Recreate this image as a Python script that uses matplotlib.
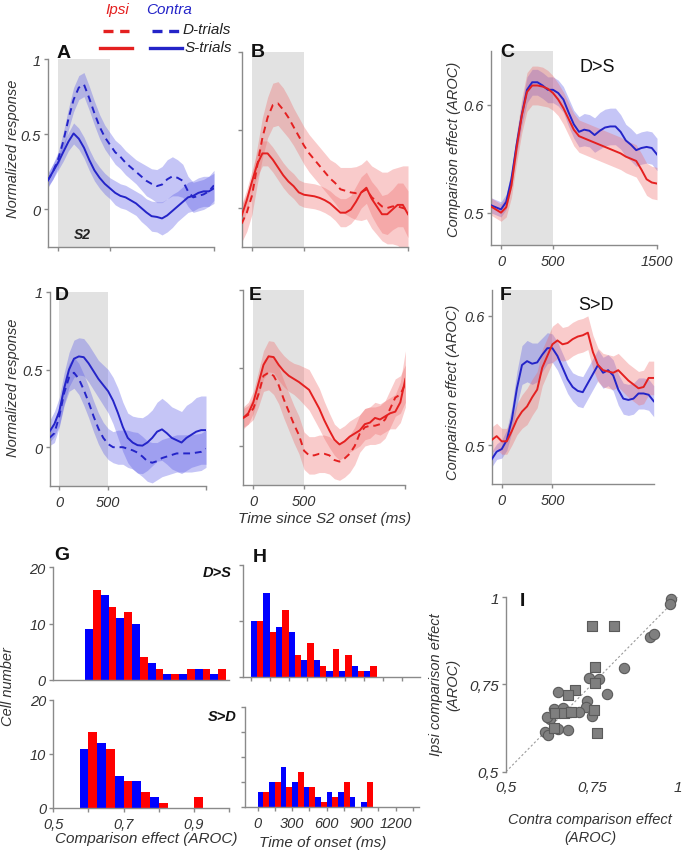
import numpy as np
import matplotlib
matplotlib.use('Agg')
import matplotlib.pyplot as plt

W, H = 691, 853
plt.rcParams['font.family'] = ['Liberation Sans', 'DejaVu Sans']
plt.rcParams['font.style'] = 'italic'

# ---------------- data ----------------
t_ms = np.arange(-100, 1501, 50)

# Panel A (contra)
a_d_mean = [0.19, 0.25, 0.33, 0.45, 0.60, 0.73, 0.81, 0.83, 0.74, 0.64, 0.55, 0.48, 0.43, 0.38, 0.35, 0.31, 0.28,
            0.25, 0.22, 0.19, 0.17, 0.155, 0.165, 0.20, 0.22, 0.21, 0.19, 0.12, 0.08, 0.09, 0.10, 0.12, 0.16]
a_d_sem = [0.04, 0.05, 0.05, 0.06, 0.07, 0.08, 0.08, 0.08, 0.08, 0.08, 0.08, 0.08, 0.08, 0.08, 0.08, 0.08, 0.08,
           0.08, 0.09, 0.10, 0.10, 0.11, 0.12, 0.13, 0.13, 0.12, 0.11, 0.10, 0.10, 0.10, 0.10, 0.10, 0.10]
a_s_mean = [0.19, 0.25, 0.31, 0.38, 0.45, 0.505, 0.47, 0.41, 0.33, 0.26, 0.21, 0.17, 0.14, 0.11, 0.09, 0.08, 0.06,
            0.04, 0.01, -0.02, -0.045, -0.05, -0.06, -0.04, -0.01, 0.02, 0.05, 0.08, 0.09, 0.11, 0.12, 0.12, 0.14]
a_s_sem = [0.05, 0.05, 0.05, 0.06, 0.06, 0.07, 0.07, 0.07, 0.07, 0.07, 0.07, 0.07, 0.07, 0.08, 0.08, 0.08, 0.08,
           0.08, 0.09, 0.09, 0.10, 0.10, 0.11, 0.11, 0.11, 0.10, 0.10, 0.10, 0.10, 0.10, 0.10, 0.10, 0.10]

# Panel B (ipsi)
b_d_mean = [-0.10, -0.03, 0.08, 0.27, 0.45, 0.58, 0.66, 0.67, 0.63, 0.58, 0.52, 0.46, 0.40, 0.35, 0.31, 0.27, 0.23,
            0.19, 0.16, 0.12, 0.11, 0.10, 0.095, 0.10, 0.12, 0.07, 0.04, 0.01, 0.0, 0.01, 0.01, 0.0, -0.01]
b_d_sem = [0.12, 0.12, 0.12, 0.12, 0.13, 0.13, 0.14, 0.14, 0.14, 0.13, 0.12, 0.12, 0.12, 0.12, 0.12, 0.12, 0.12,
           0.12, 0.13, 0.14, 0.15, 0.16, 0.17, 0.18, 0.19, 0.20, 0.21, 0.22, 0.23, 0.24, 0.25, 0.27, 0.28]
b_s_mean = [-0.05, 0.05, 0.17, 0.28, 0.35, 0.35, 0.31, 0.26, 0.21, 0.17, 0.14, 0.10, 0.085, 0.08, 0.075, 0.065, 0.05,
            0.03, 0.0, -0.03, -0.03, -0.01, 0.04, 0.10, 0.13, 0.06, 0.01, -0.04, -0.04, -0.01, 0.02, 0.02, -0.04]
b_s_sem = [0.07, 0.07, 0.07, 0.08, 0.08, 0.08, 0.08, 0.08, 0.08, 0.08, 0.08, 0.08, 0.08, 0.08, 0.08, 0.08, 0.08,
           0.08, 0.08, 0.09, 0.09, 0.09, 0.10, 0.10, 0.10, 0.11, 0.12, 0.12, 0.13, 0.13, 0.14, 0.14, 0.15]

# Panel C (D>S AROC)
c_contra_mean = [0.507, 0.505, 0.503, 0.51, 0.531, 0.563, 0.591, 0.614, 0.621, 0.621, 0.618, 0.614, 0.614, 0.611,
                 0.605, 0.593, 0.582, 0.575, 0.577, 0.576, 0.572, 0.576, 0.579, 0.58, 0.58, 0.575, 0.567, 0.563,
                 0.558, 0.56, 0.561, 0.56, 0.554]
c_contra_sem = [0.007, 0.007, 0.007, 0.007, 0.008, 0.009, 0.010, 0.012, 0.012, 0.012, 0.012, 0.012, 0.012, 0.012,
                0.012, 0.013, 0.013, 0.014, 0.015, 0.015, 0.016, 0.017, 0.017, 0.017, 0.017, 0.016, 0.015, 0.015,
                0.015, 0.015, 0.015, 0.015, 0.015]
c_ipsi_mean = [0.506, 0.503, 0.5, 0.505, 0.525, 0.56, 0.59, 0.612, 0.618, 0.618, 0.617, 0.615, 0.611, 0.605, 0.597,
               0.587, 0.577, 0.571, 0.569, 0.567, 0.565, 0.563, 0.561, 0.559, 0.557, 0.555, 0.552, 0.55, 0.548, 0.54,
               0.531, 0.528, 0.527]
c_ipsi_sem = [0.008, 0.008, 0.008, 0.009, 0.011, 0.014, 0.016, 0.018, 0.018, 0.018, 0.018, 0.017, 0.016, 0.015,
              0.015, 0.015, 0.015, 0.015, 0.015, 0.015, 0.015, 0.015, 0.015, 0.015, 0.015, 0.015, 0.015, 0.015,
              0.015, 0.015, 0.015, 0.015, 0.015]

# Panel D (contra)
d_s_mean = [0.10, 0.15, 0.23, 0.38, 0.50, 0.57, 0.585, 0.58, 0.54, 0.49, 0.44, 0.40, 0.36, 0.30, 0.22, 0.13, 0.06,
            0.03, 0.013, 0.01, 0.03, 0.06, 0.10, 0.115, 0.09, 0.06, 0.045, 0.03, 0.06, 0.08, 0.10, 0.11, 0.11]
d_s_sem = [0.07, 0.08, 0.09, 0.10, 0.11, 0.12, 0.12, 0.12, 0.12, 0.12, 0.12, 0.13, 0.14, 0.15, 0.16, 0.16, 0.16,
           0.17, 0.18, 0.18, 0.18, 0.18, 0.19, 0.20, 0.20, 0.20, 0.20, 0.20, 0.21, 0.21, 0.22, 0.22, 0.22]
d_d_mean = [0.06, 0.09, 0.20, 0.35, 0.45, 0.48, 0.44, 0.37, 0.29, 0.20, 0.12, 0.06, 0.02, 0.0, 0.0, 0.0, -0.01,
            -0.02, -0.035, -0.06, -0.09, -0.10, -0.09, -0.07, -0.06, -0.05, -0.04, -0.04, -0.04, -0.04, -0.035,
            -0.03, -0.01]
d_d_sem = [0.05, 0.06, 0.07, 0.08, 0.09, 0.10, 0.10, 0.10, 0.10, 0.10, 0.10, 0.10, 0.10, 0.10, 0.11, 0.11, 0.12,
           0.12, 0.13, 0.13, 0.13, 0.13, 0.12, 0.12, 0.12, 0.12, 0.12, 0.12, 0.12, 0.12, 0.12, 0.12, 0.12]

# Panel E (ipsi)
e_s_mean = [0.18, 0.21, 0.28, 0.40, 0.52, 0.575, 0.57, 0.52, 0.48, 0.45, 0.43, 0.41, 0.385, 0.36, 0.30, 0.24, 0.165,
            0.10, 0.04, 0.01, 0.03, 0.06, 0.08, 0.10, 0.14, 0.15, 0.18, 0.17, 0.19, 0.21, 0.22, 0.28, 0.43]
e_s_sem = [0.07, 0.07, 0.07, 0.08, 0.09, 0.10, 0.10, 0.10, 0.10, 0.10, 0.10, 0.11, 0.12, 0.13, 0.13, 0.13, 0.12,
           0.11, 0.10, 0.10, 0.10, 0.10, 0.10, 0.10, 0.10, 0.10, 0.10, 0.10, 0.10, 0.10, 0.11, 0.13, 0.18]
e_d_mean = [0.18, 0.20, 0.24, 0.33, 0.45, 0.47, 0.45, 0.39, 0.30, 0.22, 0.14, 0.07, -0.03, -0.06, -0.06, -0.05,
            -0.05, -0.06, -0.09, -0.10, -0.08, -0.05, 0.0, 0.08, 0.12, 0.13, 0.13, 0.14, 0.17, 0.24, 0.31, 0.33, 0.40]
e_d_sem = [0.06, 0.06, 0.07, 0.08, 0.10, 0.11, 0.12, 0.12, 0.12, 0.12, 0.12, 0.12, 0.12, 0.12, 0.12, 0.12, 0.12,
           0.12, 0.12, 0.12, 0.12, 0.12, 0.12, 0.12, 0.12, 0.12, 0.12, 0.12, 0.12, 0.12, 0.12, 0.12, 0.12]

# Panel F (S>D AROC)
f_contra_mean = [0.489, 0.495, 0.497, 0.504, 0.52, 0.544, 0.562, 0.565, 0.563, 0.564, 0.57, 0.575, 0.575, 0.569,
                 0.56, 0.551, 0.545, 0.542, 0.541, 0.548, 0.555, 0.562, 0.556, 0.558, 0.554, 0.543, 0.536, 0.535,
                 0.536, 0.54, 0.54, 0.539, 0.534]
f_contra_sem = [0.006, 0.006, 0.007, 0.008, 0.010, 0.013, 0.015, 0.016, 0.016, 0.015, 0.013, 0.012, 0.011, 0.011,
                0.011, 0.011, 0.011, 0.012, 0.012, 0.012, 0.012, 0.012, 0.012, 0.012, 0.012, 0.012, 0.012, 0.012,
                0.012, 0.012, 0.012, 0.012, 0.012]
f_ipsi_mean = [0.504, 0.507, 0.503, 0.503, 0.511, 0.52, 0.526, 0.53, 0.537, 0.543, 0.56, 0.569, 0.578, 0.581,
               0.578, 0.579, 0.582, 0.584, 0.585, 0.587, 0.572, 0.562, 0.558, 0.557, 0.556, 0.558, 0.554, 0.55,
               0.547, 0.544, 0.545, 0.552, 0.552]
f_ipsi_sem = [0.010, 0.010, 0.010, 0.010, 0.011, 0.012, 0.013, 0.014, 0.014, 0.014, 0.014, 0.014, 0.014, 0.014,
              0.013, 0.013, 0.013, 0.013, 0.013, 0.013, 0.013, 0.013, 0.013, 0.013, 0.013, 0.013, 0.013, 0.013,
              0.013, 0.013, 0.013, 0.013, 0.013]

# Panel G histograms (comparison effect AROC)
g_top_bins = [0.575, 0.625, 0.675, 0.725, 0.775, 0.825, 0.875, 0.925, 0.975]
g_top_contra = [9, 15, 11, 10, 3, 1, 1, 2, 1]
g_top_ipsi = [16, 13, 12, 4, 2, 1, 2, 2, 2]
g_bot_bins = [0.575, 0.625, 0.675, 0.725, 0.775, 0.825, 0.875]
g_bot_contra = [11, 12, 6, 5, 2, 0, 0]
g_bot_ipsi = [14, 11, 5, 3, 1, 0, 2]

# Panel H histograms (time of onset, ms)
h_bins = [0, 100, 200, 300, 400, 500, 600, 700, 800, 900]
h_top_contra = [10, 15, 9, 8, 3, 3, 1, 1, 2, 1]
h_top_ipsi = [10, 8, 12, 4, 6, 2, 5, 4, 1, 2]
h_bot_contra = [3, 5, 8, 5, 4, 2, 3, 3, 2, 1]
h_bot_ipsi = [3, 5, 4, 7, 4, 1, 2, 5, 0, 5]

# Panel I scatter
i_circ_contra = [0.981, 0.976, 0.918, 0.929, 0.843, 0.794, 0.742, 0.771, 0.650, 0.736, 0.734, 0.749, 0.712, 0.639,
                 0.666, 0.628, 0.620, 0.613, 0.623, 0.650, 0.681, 0.686]
i_circ_ipsi = [0.993, 0.981, 0.885, 0.895, 0.796, 0.722, 0.768, 0.764, 0.728, 0.701, 0.684, 0.659, 0.670, 0.680,
               0.683, 0.650, 0.656, 0.613, 0.605, 0.622, 0.620, 0.672]
i_sq_contra = [0.751, 0.814, 0.760, 0.760, 0.702, 0.681, 0.642, 0.668, 0.690, 0.756, 0.639, 0.765]
i_sq_ipsi = [0.917, 0.917, 0.801, 0.753, 0.733, 0.720, 0.667, 0.668, 0.672, 0.678, 0.624, 0.611]

# ---------------- styling ----------------
BLUE = '#2424c8'
RED = '#e42020'
BLUE_F = '#5a5ae6'
RED_F = '#f06a6a'
GRAY = '#e2e2e2'
SP = '#8a8a8a'
TXT = '#333333'

fig = plt.figure(figsize=(W / 100, H / 100), dpi=100)


def add_ax(l, t, r, b):
    return fig.add_axes([l / W, 1 - b / H, (r - l) / W, (b - t) / H])


def style(ax, labelsize=10.5):
    for s in ['top', 'right']:
        ax.spines[s].set_visible(False)
    for s in ['left', 'bottom']:
        ax.spines[s].set_color(SP)
        ax.spines[s].set_linewidth(1.0)
    ax.tick_params(colors=SP, labelcolor=TXT, length=3, width=1, labelsize=labelsize)
    ax.tick_params(axis='y', pad=2)
    ax.patch.set_alpha(0)


def trace_panel(rect, ylim, series, yticks, ylabels, xticks, xlabels):
    ax = add_ax(*rect)
    ax.axvspan(0, 500, color=GRAY, lw=0, zorder=0)
    for mean, sem, col, fc, ls in series:
        m = np.array(mean)
        s = np.array(sem)
        ax.fill_between(t_ms, m - s, m + s, color=fc, alpha=0.35, lw=0, zorder=1)
    for mean, sem, col, fc, ls in series:
        if ls == 'dash':
            ax.plot(t_ms, mean, color=col, lw=1.4, ls=(0, (3.5, 2.5)), zorder=3)
        else:
            ax.plot(t_ms, mean, color=col, lw=1.4, zorder=3)
    ax.set_xlim(-100, 1500)
    ax.set_ylim(*ylim)
    ax.set_yticks(yticks)
    ax.set_yticklabels(ylabels)
    ax.set_xticks(xticks)
    ax.set_xticklabels(xlabels)
    style(ax)
    return ax


axA = trace_panel((47.6, 60, 214, 248), (-0.25, 1.0),
                  [(a_d_mean, a_d_sem, BLUE, BLUE_F, 'dash'), (a_s_mean, a_s_sem, BLUE, BLUE_F, 'solid')],
                  [0, 0.5, 1], ['0', '0.5', '1'], [0, 500, 1500], ['', '', ''])
axB = trace_panel((241.6, 53, 408, 248), (-0.25, 1.0),
                  [(b_d_mean, b_d_sem, RED, RED_F, 'dash'), (b_s_mean, b_s_sem, RED, RED_F, 'solid')],
                  [0, 0.5, 1], ['', '', ''], [0, 500, 1500], ['', '', ''])
axC = trace_panel((490.6, 52, 657, 246), (0.47, 0.65),
                  [(c_contra_mean, c_contra_sem, BLUE, BLUE_F, 'solid'), (c_ipsi_mean, c_ipsi_sem, RED, RED_F, 'solid')],
                  [0.5, 0.6], ['0.5', '0.6'], [0, 500, 1500], ['0', '500', '1500'])
axD = trace_panel((49.5, 293, 206, 487), (-0.25, 1.0),
                  [(d_s_mean, d_s_sem, BLUE, BLUE_F, 'solid'), (d_d_mean, d_d_sem, BLUE, BLUE_F, 'dash')],
                  [0, 0.5, 1], ['0', '0.5', '1'], [0, 500, 1500], ['0', '500', ''])
axE = trace_panel((243.2, 291, 405.4, 486), (-0.25, 1.0),
                  [(e_s_mean, e_s_sem, RED, RED_F, 'solid'), (e_d_mean, e_d_sem, RED, RED_F, 'dash')],
                  [0, 0.5, 1], ['', '', ''], [0, 500, 1500], ['0', '500', ''])
axF = trace_panel((491.6, 291, 653.7, 485), (0.47, 0.62),
                  [(f_contra_mean, f_contra_sem, BLUE, BLUE_F, 'solid'), (f_ipsi_mean, f_ipsi_sem, RED, RED_F, 'solid')],
                  [0.5, 0.6], ['0.5', '0.6'], [0, 500], ['0', '500'])

HB = '#0000ff'
HR = '#ff0000'


def hist_panel(rect, xlim, bins, width, contra, ipsi, ylim, yticks, ylabels):
    ax = add_ax(*rect)
    b = np.array(bins, dtype=float)
    ax.bar(b, contra, width=width / 2, align='edge', color=HB, lw=0, zorder=2)
    ax.bar(b + width / 2, ipsi, width=width / 2, align='edge', color=HR, lw=0, zorder=2)
    ax.set_xlim(*xlim)
    ax.set_ylim(*ylim)
    ax.set_yticks(yticks)
    ax.set_yticklabels(ylabels)
    style(ax)
    return ax


axG1 = hist_panel((52.7, 568, 229, 681), (0.472, 1.034), g_top_bins, 0.05, g_top_contra, g_top_ipsi,
                  (0, 20), [0, 10, 20], ['0', '10', '20'])
axG1.set_xticks([])
axG2 = hist_panel((53.3, 701, 229, 809), (0.5, 1.0), g_bot_bins, 0.05, g_bot_contra, g_bot_ipsi,
                  (0, 20), [0, 10, 20], ['0', '10', '20'])
axG2.set_xticks([0.5, 0.7, 0.9])
axG2.set_xticklabels(['0,5', '0,7', '0,9'])
axG2.set_xticks([0.6, 0.8, 1.0], minor=True)
axG2.tick_params(which='minor', colors=SP, length=3, width=1)

axH1 = hist_panel((243.5, 566, 420, 678), (-57, 1343), h_bins, 100, h_top_contra, h_top_ipsi,
                  (0, 20), [0, 10, 20], ['', '', ''])
axH1.set_xticks([0, 150, 300, 450, 600, 750, 900, 1050, 1200])
axH1.set_xticklabels([])
axH2 = hist_panel((245, 708, 419, 808), (-110, 1402), h_bins, 100, h_bot_contra, h_bot_ipsi,
                  (0, 20), [0, 5, 10, 15, 20], ['', '', '', '', ''])
axH2.set_xticks([0, 300, 600, 900, 1200])
axH2.set_xticklabels(['0', '300', '600', '900', '1200'])
axH2.set_xticks([150, 450, 750, 1050, 1350], minor=True)
axH2.tick_params(which='minor', colors=SP, length=3, width=1)

# Panel I
axI = add_ax(506, 598, 678, 772.7)
axI.plot([0.5, 1.0], [0.5, 1.0], color='#9a9a9a', lw=0.8, ls=(0, (2, 2)), zorder=1)
axI.scatter(i_circ_contra, i_circ_ipsi, s=55, marker='o', facecolor='#7f7f7f', edgecolor='#5a5a5a',
            lw=0.8, zorder=3, clip_on=False)
axI.scatter(i_sq_contra, i_sq_ipsi, s=55, marker='s', facecolor='#7f7f7f', edgecolor='#5a5a5a',
            lw=0.8, zorder=3, clip_on=False)
axI.set_xlim(0.5, 1.0)
axI.set_ylim(0.5, 1.0)
axI.set_xticks([0.5, 0.75, 1.0])
axI.set_xticklabels(['0,5', '0,75', '1'])
axI.set_yticks([0.5, 0.75, 1.0])
axI.set_yticklabels(['0,5', '0,75', '1'])
style(axI, labelsize=11)
axI.spines['bottom'].set_visible(False)
axI.tick_params(axis='x', length=0, pad=6)

# ---------------- overlay texts ----------------
ov = fig.add_axes([0, 0, 1, 1])
ov.set_xlim(0, W)
ov.set_ylim(H, 0)
ov.axis('off')
ov.patch.set_alpha(0)

# legend
ov.text(117, 10, 'Ipsi', color=RED, fontsize=11, ha='center', va='center')
ov.text(169, 10, 'Contra', color=BLUE, fontsize=11, ha='center', va='center')
ov.plot([103, 129], [32, 32], color=RED, lw=2.4, ls=(0, (3, 2)))
ov.plot([152, 179], [32, 32], color=BLUE, lw=2.4, ls=(0, (3, 2)))
ov.plot([100, 132], [49, 49], color=RED, lw=2.4)
ov.plot([150, 182], [49, 49], color=BLUE, lw=2.4)
ov.text(183, 30, 'D-trials', color='#222222', fontsize=11, ha='left', va='center')
ov.text(185, 48, 'S-trials', color='#222222', fontsize=11, ha='left', va='center')

# panel letters
for lab, x, y in [('A', 64, 53), ('B', 258, 52), ('C', 507, 52), ('D', 62, 295), ('E', 255, 295),
                  ('F', 506, 295), ('G', 62, 556), ('H', 260, 557), ('I', 522, 602)]:
    ov.text(x, y, lab, fontsize=14, fontweight='bold', fontstyle='normal', ha='center', va='center',
            color='#111111')

ov.text(82, 235, 'S2', fontsize=10, fontweight='bold', ha='center', va='center', color='#222222')
ov.text(597, 67, 'D>S', fontsize=13, fontstyle='normal', ha='center', va='center', color='#111111')
ov.text(596, 305, 'S>D', fontsize=13, fontstyle='normal', ha='center', va='center', color='#111111')
ov.text(217, 573, 'D>S', fontsize=10.5, fontweight='bold', ha='center', va='center', color='#111111')
ov.text(222, 717, 'S>D', fontsize=10.5, fontweight='bold', ha='center', va='center', color='#111111')

# axis labels
ov.text(13, 149, 'Normalized response', fontsize=10.5, rotation=90, ha='center', va='center', color=TXT)
ov.text(13, 388, 'Normalized response', fontsize=10.5, rotation=90, ha='center', va='center', color=TXT)
ov.text(454, 149, 'Comparison effect (AROC)', fontsize=10.5, rotation=90, ha='center', va='center', color=TXT)
ov.text(453, 392, 'Comparison effect (AROC)', fontsize=10.5, rotation=90, ha='center', va='center', color=TXT)
ov.text(325, 519, 'Time since S2 onset (ms)', fontsize=11, ha='center', va='center', color=TXT)
ov.text(8, 687, 'Cell number', fontsize=10.5, rotation=90, ha='center', va='center', color=TXT)
ov.text(146, 839, 'Comparison effect (AROC)', fontsize=11, ha='center', va='center', color=TXT)
ov.text(323, 843, 'Time of onset (ms)', fontsize=11, ha='center', va='center', color=TXT)
ov.text(445, 685, 'Ipsi comparison effect\n(AROC)', fontsize=10.5, rotation=90, ha='center', va='center',
        color=TXT, linespacing=1.3)
ov.text(590, 829, 'Contra comparison effect\n(AROC)', fontsize=10.5, ha='center', va='center', color=TXT,
        linespacing=1.3)

fig.savefig('out.png', dpi=100)
